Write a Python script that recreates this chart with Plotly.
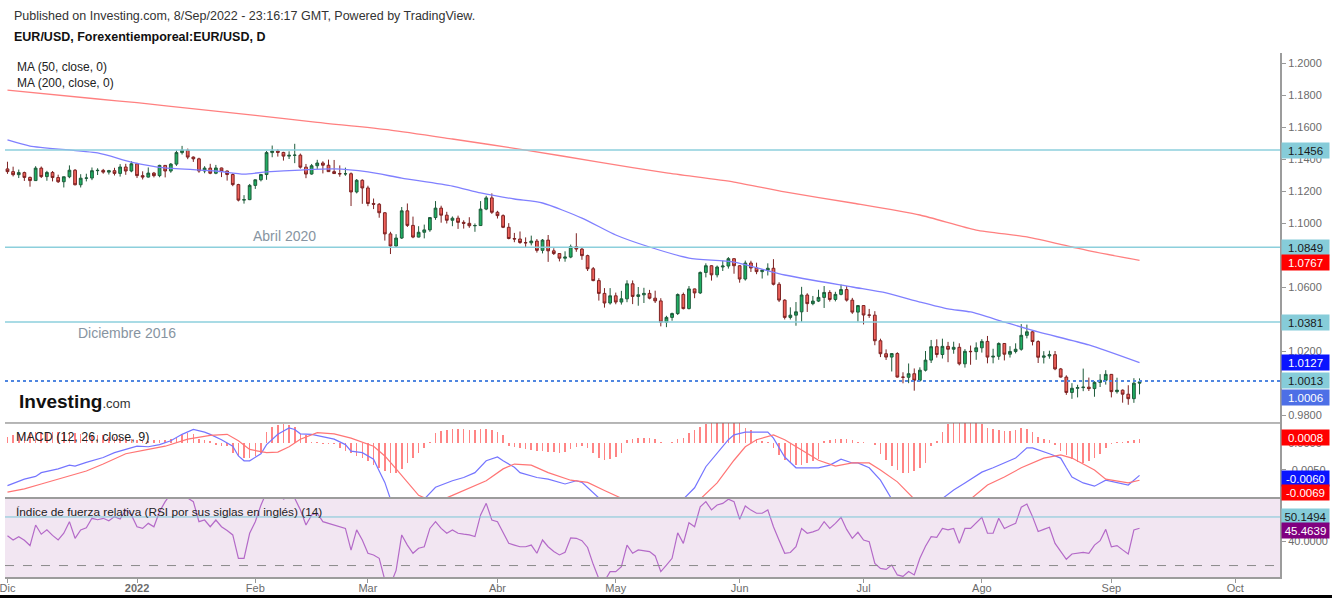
import pandas as pd
import plotly.graph_objects as go

# ---------------- data ----------------
dates = pd.bdate_range("2021-12-01", "2022-09-08")
bar = list(range(len(dates)))

open_ = [
    1.1338,1.1321,1.1302,1.1315,1.1285,1.1265,1.1343,1.1290,1.1316,1.1284,1.1258,1.1289,1.1330,1.1239,1.1280,1.1281,1.1327,1.1329,1.1318,1.1327,1.1310,1.1350,1.1325,
    1.1370,1.1296,1.1287,1.1312,1.1296,1.1360,1.1325,1.1368,1.1440,1.1455,1.1412,1.1401,1.1325,1.1343,1.1311,1.1344,1.1325,1.1303,1.1240,1.1143,1.1146,
    1.1235,1.1270,1.1303,1.1440,1.1450,1.1441,1.1418,1.1423,1.1424,1.1349,1.1306,1.1358,1.1375,1.1361,1.1321,1.1309,1.1307,1.1308,1.1194,1.1267,
    1.1219,1.1122,1.1117,1.1064,1.0932,1.0856,1.0906,1.1076,1.0985,1.0912,1.0942,1.0957,1.1034,1.1093,1.1049,1.1017,1.1030,1.1004,1.0998,1.0983,1.0984,1.1087,1.1157,
    1.1067,1.1046,1.0973,1.0903,1.0900,1.0878,1.0876,1.0887,1.0829,1.0893,1.0826,1.0809,1.0780,1.0787,1.0852,1.0837,1.0796,1.0714,1.0640,1.0560,1.0500,
    1.0545,1.0506,1.0526,1.0620,1.0541,1.0551,1.0560,1.0530,1.0513,1.0380,1.0410,1.0434,1.0553,1.0465,1.0588,1.0563,1.0691,1.0733,1.0676,1.0725,1.0731,1.0777,
    1.0733,1.0650,1.0750,1.0719,1.0696,1.0705,1.0717,1.0617,1.0518,1.0410,1.0424,1.0445,1.0550,1.0496,1.0512,1.0535,1.0566,1.0522,1.0554,1.0584,1.0518,1.0443,
    1.0484,1.0425,1.0424,1.0264,1.0183,1.0162,1.0184,1.0037,1.0036,1.0058,1.0017,1.0080,1.0143,1.0227,1.0178,1.0229,1.0211,1.0223,1.0120,1.0198,1.0196,
    1.0220,1.0260,1.0162,1.0167,1.0247,1.0180,1.0197,1.0211,1.0298,1.0320,1.0259,1.0161,1.0169,1.0177,1.0088,1.0037,0.9941,0.9967,0.9971,0.9974,0.9965,1.0004,1.0017,
    1.0054,0.9946,0.9955,0.9930,0.9902,0.9999,
]
high = [
    1.1383,1.1352,1.1334,1.1321,1.1290,1.1355,1.1353,1.1326,1.1325,1.1302,1.1290,1.1360,1.1337,1.1305,1.1308,1.1347,1.1342,1.1338,1.1332,1.1345,1.1368,1.1370,1.1386,
    1.1376,1.1323,1.1347,1.1319,1.1364,1.1362,1.1375,1.1454,1.1482,1.1465,1.1416,1.1408,1.1355,1.1370,1.1363,1.1346,1.1328,1.1310,1.1245,1.1174,1.1244,
    1.1272,1.1307,1.1450,1.1484,1.1461,1.1445,1.1448,1.1495,1.1434,1.1369,1.1369,1.1395,1.1386,1.1396,1.1394,1.1360,1.1346,1.1316,1.1275,1.1273,
    1.1233,1.1153,1.1125,1.1068,1.0945,1.0930,1.1100,1.1122,1.1040,1.0980,1.0990,1.1035,1.1137,1.1108,1.1070,1.1041,1.1046,1.1017,1.1036,1.0997,1.1137,1.1170,1.1185,
    1.1076,1.1054,1.0999,1.0938,1.0947,1.0910,1.0921,1.0900,1.0900,1.0925,1.0842,1.0812,1.0823,1.0865,1.0936,1.0850,1.0802,1.0725,1.0655,1.0593,1.0593,
    1.0565,1.0576,1.0642,1.0641,1.0600,1.0595,1.0582,1.0577,1.0530,1.0420,1.0440,1.0560,1.0565,1.0606,1.0590,1.0697,1.0748,1.0736,1.0734,1.0765,1.0787,1.0779,
    1.0736,1.0765,1.0764,1.0752,1.0710,1.0748,1.0774,1.0630,1.0523,1.0473,1.0506,1.0601,1.0561,1.0544,1.0583,1.0606,1.0580,1.0570,1.0615,1.0606,1.0532,1.0486,
    1.0487,1.0463,1.0449,1.0277,1.0210,1.0186,1.0192,1.0067,1.0122,1.0091,1.0098,1.0200,1.0269,1.0273,1.0277,1.0257,1.0258,1.0248,1.0212,1.0234,1.0254,
    1.0274,1.0294,1.0214,1.0254,1.0250,1.0230,1.0248,1.0368,1.0365,1.0326,1.0267,1.0199,1.0202,1.0200,1.0094,1.0048,0.9999,0.9989,1.0090,1.0034,1.0011,1.0055,1.0080,
    1.0056,1.0033,0.9960,0.9986,1.0030,1.0029,
]
low = [
    1.1307,1.1291,1.1281,1.1263,1.1227,1.1263,1.1281,1.1264,1.1260,1.1250,1.1222,1.1280,1.1235,1.1222,1.1260,1.1268,1.1300,1.1308,1.1303,1.1297,1.1290,1.1301,1.1317,
    1.1281,1.1272,1.1284,1.1285,1.1286,1.1285,1.1314,1.1357,1.1428,1.1399,1.1382,1.1314,1.1311,1.1305,1.1305,1.1287,1.1265,1.1230,1.1135,1.1121,1.1143,
    1.1213,1.1260,1.1270,1.1411,1.1415,1.1390,1.1400,1.1374,1.1340,1.1280,1.1302,1.1338,1.1310,1.1320,1.1308,1.1289,1.1295,1.1106,1.1185,1.1120,
    1.1105,1.1087,1.1033,1.0890,1.0806,1.0850,1.0900,1.0975,1.0905,1.0910,1.0904,1.0945,1.1020,1.1002,1.0997,1.0980,1.0963,1.0965,1.0970,1.0945,1.0982,1.1080,1.1057,
    1.1028,1.0968,1.0898,1.0880,1.0870,1.0850,1.0860,1.0815,1.0810,1.0757,1.0800,1.0760,1.0758,1.0780,1.0820,1.0770,1.0700,1.0636,1.0515,1.0471,1.0490,
    1.0492,1.0490,1.0505,1.0493,1.0483,1.0500,1.0523,1.0500,1.0354,1.0349,1.0389,1.0425,1.0460,1.0460,1.0530,1.0556,1.0660,1.0640,1.0660,1.0700,1.0715,1.0683,
    1.0627,1.0640,1.0694,1.0680,1.0653,1.0672,1.0610,1.0506,1.0397,1.0397,1.0358,1.0382,1.0444,1.0486,1.0506,1.0469,1.0509,1.0510,1.0548,1.0509,1.0432,1.0383,
    1.0366,1.0407,1.0236,1.0162,1.0144,1.0072,1.0034,0.9998,0.9999,0.9952,1.0007,1.0072,1.0125,1.0159,1.0153,1.0130,1.0183,1.0110,1.0096,1.0114,1.0145,
    1.0190,1.0123,1.0123,1.0145,1.0141,1.0159,1.0185,1.0202,1.0279,1.0235,1.0125,1.0122,1.0152,1.0080,1.0034,0.9926,0.9901,0.9910,0.9949,0.9950,0.9914,0.9975,0.9990,
    0.9910,0.9934,0.9877,0.9864,0.9876,0.9929,
]
close = [
    1.1321,1.1302,1.1315,1.1285,1.1265,1.1343,1.1290,1.1316,1.1284,1.1258,1.1289,1.1330,1.1239,1.1280,1.1281,1.1327,1.1329,1.1318,1.1327,1.1310,1.1350,1.1325,1.1370,
    1.1296,1.1287,1.1312,1.1296,1.1360,1.1325,1.1368,1.1440,1.1455,1.1412,1.1401,1.1325,1.1343,1.1311,1.1344,1.1325,1.1303,1.1240,1.1143,1.1146,1.1235,
    1.1270,1.1303,1.1440,1.1450,1.1441,1.1418,1.1423,1.1424,1.1349,1.1306,1.1358,1.1375,1.1361,1.1321,1.1309,1.1307,1.1308,1.1194,1.1267,1.1219,
    1.1122,1.1117,1.1064,1.0932,1.0856,1.0906,1.1076,1.0985,1.0912,1.0942,1.0957,1.1034,1.1093,1.1049,1.1017,1.1030,1.1004,1.0998,1.0983,1.0984,1.1087,1.1157,1.1067,
    1.1046,1.0973,1.0903,1.0900,1.0878,1.0876,1.0887,1.0829,1.0893,1.0826,1.0809,1.0780,1.0787,1.0852,1.0837,1.0796,1.0714,1.0640,1.0560,1.0500,1.0545,
    1.0506,1.0526,1.0620,1.0541,1.0551,1.0560,1.0530,1.0513,1.0380,1.0410,1.0434,1.0553,1.0465,1.0588,1.0563,1.0691,1.0733,1.0676,1.0725,1.0731,1.0777,1.0733,
    1.0650,1.0750,1.0719,1.0696,1.0705,1.0717,1.0617,1.0518,1.0410,1.0424,1.0445,1.0550,1.0496,1.0512,1.0535,1.0566,1.0522,1.0554,1.0584,1.0518,1.0443,1.0484,
    1.0425,1.0424,1.0264,1.0183,1.0162,1.0184,1.0037,1.0036,1.0058,1.0017,1.0080,1.0143,1.0227,1.0178,1.0229,1.0211,1.0223,1.0120,1.0198,1.0196,1.0220,
    1.0260,1.0162,1.0167,1.0247,1.0180,1.0197,1.0211,1.0298,1.0320,1.0259,1.0161,1.0169,1.0177,1.0088,1.0037,0.9941,0.9967,0.9971,0.9974,0.9965,1.0004,1.0017,1.0054,
    0.9946,0.9955,0.9930,0.9902,0.9999,1.0006,
]

# moving averages (bar index, value)
ma50_bar = [0,4,16,22,28,37,42,46,52,58,64,70,79,84,90,95,102,108,114,121,129,138,150,156,162,167,171,177,183,192,201]
ma50_val = [1.1519,1.1481,1.1438,1.1381,1.1344,1.1325,1.1306,1.1319,1.1331,1.1338,
            1.1319,1.1281,1.1231,1.1188,1.1150,1.1125,1.1031,1.0925,1.0850,1.0781,
            1.0756,1.0675,1.0600,1.0563,1.0506,1.0463,1.0444,1.0381,1.0319,1.0238,1.0127]
ma200_bar = [0,16,23,34,44,55,68,79,92,105,117,129,138,150,162,172,181,189,193,201]
ma200_val = [1.1831,1.1775,1.1752,1.1710,1.1673,1.1629,1.1581,1.1525,1.1456,1.1381,
             1.1313,1.1256,1.1194,1.1125,1.1050,1.0956,1.0913,1.0850,1.0819,1.0767]

# MACD (12, 26, close, 9)
macd_bar = [0,3,5,6,9,11,12,14,17,19,21,23,25,27,29,31,33,35,36,38,40,41,42,43,45,46,48,50,51,52,
            54,56,58,60,61,63,65,66,67,68,70,72,74,76,79,81,83,85,87,88,90,91,94,96,99,101,102,104,105,107,
            109,112,115,118,120,122,124,126,128,129,131,135,136,138,140,142,144,146,148,150,151,153,155,157,159,162,166,168,170,173,
            175,177,179,181,182,185,187,188,189,191,193,195,197,199,201]
macd_val = [-0.0079,-0.0067,-0.0062,-0.0055,-0.0048,-0.0041,-0.0043,-0.0036,-0.0027,-0.0018,
            -0.0012,-0.0006,-0.0007,-0.0003,0.0004,0.0016,0.0025,0.0020,0.0016,0.0006,
            -0.0006,-0.0024,-0.0033,-0.0033,-0.0020,-0.0003,0.0016,0.0028,0.0025,0.0017,
            0.0016,0.0011,0.0007,-0.0003,-0.0015,-0.0018,-0.0030,-0.0052,-0.0073,-0.0104,
            -0.0110,-0.0114,-0.0104,-0.0082,-0.0070,-0.0064,-0.0055,-0.0033,-0.0026,-0.0033,
            -0.0045,-0.0055,-0.0064,-0.0067,-0.0076,-0.0070,-0.0073,-0.0094,-0.0104,-0.0121,
            -0.0120,-0.0110,-0.0110,-0.0112,-0.0104,-0.0083,-0.0044,-0.0019,0.0006,0.0015,
            0.0020,0.0020,0.0009,-0.0026,-0.0046,-0.0046,-0.0046,-0.0041,-0.0030,-0.0037,
            -0.0037,-0.0046,-0.0069,-0.0104,-0.0135,-0.0135,-0.0104,-0.0087,-0.0074,-0.0054,
            -0.0046,-0.0037,-0.0028,-0.0009,-0.0009,-0.0020,-0.0028,-0.0046,-0.0063,-0.0074,
            -0.0080,-0.0069,-0.0074,-0.0078,-0.0060]
signal_bar = [0,3,6,10,14,17,21,25,28,32,36,39,41,43,46,48,50,52,55,58,
              61,65,67,69,71,73,75,77,79,81,85,88,90,93,96,100,103,106,109,111,
              114,117,119,121,123,126,129,131,133,136,138,141,144,147,150,153,155,158,161,164,
              167,171,174,177,180,184,187,189,193,195,199,201]
signal_val = [-0.0091,-0.0085,-0.0076,-0.0064,-0.0052,-0.0039,-0.0020,-0.0012,-0.0006,0.0007,
              0.0014,0.0016,0.0004,-0.0012,-0.0018,-0.0017,-0.0007,0.0007,0.0019,0.0017,
              0.0009,-0.0006,-0.0024,-0.0048,-0.0073,-0.0097,-0.0106,-0.0106,-0.0097,-0.0088,
              -0.0070,-0.0048,-0.0039,-0.0041,-0.0055,-0.0069,-0.0073,-0.0088,-0.0104,-0.0112,
              -0.0118,-0.0118,-0.0115,-0.0110,-0.0104,-0.0074,-0.0032,-0.0007,0.0006,0.0015,
              0.0006,-0.0013,-0.0032,-0.0043,-0.0037,-0.0037,-0.0050,-0.0072,-0.0104,-0.0118,
              -0.0118,-0.0104,-0.0078,-0.0063,-0.0046,-0.0028,-0.0022,-0.0028,-0.0050,-0.0067,
              -0.0074,-0.0069]
hist = [
    0.0012,0.0014,0.0016,0.0018,0.0019,0.0020,0.0021,0.0021,0.0020,0.0021,0.0021,0.0019,0.0018,0.0016,0.0015,0.0015,0.0014,0.0014,0.0012,0.0011,0.0010,0.0008,0.0007,
    0.0005,0.0004,0.0004,0.0005,0.0005,0.0006,0.0007,
    0.0010,0.0015,0.0018,0.0017,0.0007,0.0005,0.0003,-0.0004,-0.0006,-0.0006,-0.0019,-0.0025,-0.0028,-0.0027,-0.0024,-0.0019,
    0.0020,0.0030,0.0034,0.0035,0.0034,0.0030,0.0016,0.0014,0.0002,0.0001,-0.0001,-0.0002,-0.0002,
    -0.0010,-0.0015,-0.0019,-0.0024,-0.0028,-0.0033,-0.0040,-0.0046,-0.0052,-0.0055,-0.0055,
    -0.0048,-0.0038,-0.0028,-0.0018,-0.0010,
    0.0002,0.0018,0.0022,0.0024,0.0025,0.0026,0.0025,0.0024,0.0024,0.0025,0.0026,0.0024,0.0020,0.0014,
    -0.0006,-0.0008,-0.0010,-0.0012,-0.0013,-0.0014,-0.0015,-0.0016,-0.0017,-0.0018,-0.0016,-0.0012,-0.0008,-0.0006,-0.0010,-0.0018,-0.0028,-0.0031,-0.0030,-0.0026,-0.0018,
    0.0005,0.0008,0.0009,0.0009,0.0009,0.0008,0.0001,0.0000,0.0001,0.0007,0.0009,
    0.0018,0.0024,0.0030,0.0036,0.0040,0.0042,0.0044,0.0044,0.0042,0.0040,0.0028,0.0024,0.0008,0.0004,0.0002,
    -0.0010,-0.0022,-0.0032,-0.0038,-0.0041,-0.0040,-0.0038,-0.0034,-0.0030,
    0.0004,0.0006,0.0008,0.0008,0.0007,0.0006,0.0002,0.0001,0.0000,-0.0003,
    -0.0020,-0.0032,-0.0042,-0.0050,-0.0055,-0.0056,-0.0052,-0.0046,-0.0038,-0.0005,0.0003,
    0.0020,0.0036,0.0042,0.0044,0.0044,0.0042,0.0040,0.0036,0.0028,0.0026,0.0024,0.0022,0.0022,0.0024,0.0027,0.0026,0.0020,0.0012,0.0008,0.0006,
    -0.0004,-0.0014,-0.0022,-0.0030,-0.0035,-0.0037,-0.0034,-0.0028,-0.0020,-0.0010,
    -0.0002,0.0001,0.0002,0.0003,0.0005,0.0008,
]

# RSI (14)
rsi = [
    42.4,40.6,42.0,40.5,38.3,46.8,43.0,44.8,42.5,40.6,
    43.4,48.2,41.3,44.8,45.7,49.6,49.0,49.6,48.6,50.3,
    49.3,53.1,51.0,46.1,45.4,47.5,46.1,52.4,56.5,60.5,
    63.0,60.5,58.0,56.5,48.2,48.9,46.1,48.9,46.1,44.5,
    42.7,33.0,33.0,43.4,48.2,55.0,60.5,63.0,61.0,57.6,
    58.5,57.9,53.1,46.8,51.0,51.7,48.2,47.5,46.8,46.1,
    45.4,36.4,44.8,40.6,35.1,34.4,33.0,24.0,22.0,28.0,
    42.7,38.5,35.1,37.2,37.8,45.4,48.2,45.4,43.4,44.8,
    43.4,43.0,42.7,42.0,51.0,55.8,48.9,48.2,43.4,39.2,
    38.5,37.8,37.8,38.5,35.1,40.6,37.8,35.8,34.4,35.5,
    41.5,41.3,40.3,37.5,30.5,24.5,23.5,27.5,27.5,29.5,
    38.5,35.1,36.5,36.0,35.8,34.0,27.5,30.2,33.0,43.6,
    39.2,47.8,46.1,54.4,56.5,53.1,55.1,55.8,57.5,56.5,
    49.2,54.7,53.0,51.7,51.7,53.1,46.1,40.5,35.1,35.4,
    37.8,45.4,43.4,44.0,44.8,48.2,45.4,47.5,50.0,45.0,
    41.3,43.8,40.6,39.9,30.9,28.8,28.4,30.2,26.1,25.5,
    27.5,26.1,33.0,38.0,42.0,41.7,45.4,44.8,45.4,39.2,
    45.4,45.4,47.5,50.0,43.4,43.4,49.6,45.4,46.5,47.5,
    54.2,55.5,50.3,44.1,45.0,45.9,39.2,36.0,32.6,34.8,
    35.1,35.5,35.1,38.5,40.3,45.0,37.8,38.3,36.5,34.8,
    44.8,45.4639,
]

hlines_price = [1.1456, 1.0849, 1.0381]
dotted_price = 1.0013
rsi_hline = 50.1494
rsi_low_band = 30

month_labels = ["Dic", "<b>2022</b>", "Feb", "Mar", "Abr", "May", "Jun", "Jul", "Ago", "Sep", "Oct"]
month_starts = ["2021-12-01", "2022-01-01", "2022-02-01", "2022-03-01", "2022-04-01", "2022-05-01",
                "2022-06-01", "2022-07-01", "2022-08-01", "2022-09-01", "2022-10-01"]

for name, arr in [("open", open_), ("high", high), ("low", low), ("close", close), ("hist", hist), ("rsi", rsi)]:
    assert len(arr) == len(dates), (name, len(arr), len(dates))
assert len(ma50_bar) == len(ma50_val)
assert len(ma200_bar) == len(ma200_val)
assert len(macd_bar) == len(macd_val), (len(macd_bar), len(macd_val))
assert len(signal_bar) == len(signal_val), (len(signal_bar), len(signal_val))

# business-day calendar used for tick positions (extends past the data)
cal = pd.bdate_range("2021-12-01", "2022-10-31")
tick_pos = [int((cal >= pd.Timestamp(m)).argmax()) for m in month_starts]

# ---------------- figure ----------------
FONT = "Liberation Sans, Arial, sans-serif"
fig = go.Figure()

fig.add_trace(go.Candlestick(
    x=bar, open=open_, high=high, low=low, close=close,
    increasing=dict(fillcolor="#1eae62", line=dict(color="#1f5c3b", width=1)),
    decreasing=dict(fillcolor="#f0625b", line=dict(color="#7d2222", width=1)),
    whiskerwidth=0, xaxis="x", yaxis="y", hoverinfo="skip", showlegend=False))

fig.add_trace(go.Scatter(x=ma50_bar, y=ma50_val, mode="lines", xaxis="x", yaxis="y",
                         line=dict(color="#8080ff", width=1.3, shape="spline", smoothing=0.6),
                         hoverinfo="skip", showlegend=False))
fig.add_trace(go.Scatter(x=ma200_bar, y=ma200_val, mode="lines", xaxis="x", yaxis="y",
                         line=dict(color="#ff8080", width=1.3, shape="spline", smoothing=0.6),
                         hoverinfo="skip", showlegend=False))

fig.add_trace(go.Bar(x=bar, y=hist, xaxis="x", yaxis="y2", width=0.28,
                     marker=dict(color="rgba(255,80,80,0.7)", line=dict(width=0)),
                     hoverinfo="skip", showlegend=False))
fig.add_trace(go.Scatter(x=macd_bar, y=macd_val, mode="lines", xaxis="x", yaxis="y2",
                         line=dict(color="#7575ff", width=1.2), hoverinfo="skip", showlegend=False))
fig.add_trace(go.Scatter(x=signal_bar, y=signal_val, mode="lines", xaxis="x", yaxis="y2",
                         line=dict(color="#ff7575", width=1.2), hoverinfo="skip", showlegend=False))

fig.add_trace(go.Scatter(x=bar, y=rsi, mode="lines", xaxis="x", yaxis="y3",
                         line=dict(color="#b46ac8", width=1.2), hoverinfo="skip", showlegend=False))

axis_common = dict(side="right", anchor="x", showgrid=False, zeroline=False, ticks="outside",
                   ticklen=4, tickcolor="#999999", tickwidth=1, showline=True, linecolor="#9c9c9c",
                   linewidth=2, tickfont=dict(family=FONT, size=11, color="#6b6b6b"),
                   fixedrange=True, automargin=False)

fig.update_layout(
    width=1332, height=598,
    margin=dict(l=5, r=52, t=53, b=21, autoexpand=False),
    paper_bgcolor="white", plot_bgcolor="white",
    showlegend=False, hovermode=False, bargap=0,
    xaxis=dict(domain=[0, 1], anchor="y3", range=[-0.44, 225.94], showgrid=False, zeroline=False,
               tickmode="array", tickvals=tick_pos, ticktext=month_labels, ticks="outside",
               ticklen=4, tickcolor="#999999", showline=True, linecolor="#9c9c9c", linewidth=2,
               tickfont=dict(family=FONT, size=11, color="#6b6b6b"), ticklabeloverflow="allow",
               ticklabelstandoff=-4,
               automargin=False, rangeslider=dict(visible=False), fixedrange=True),
    yaxis=dict(domain=[0.2939, 1], range=[0.975, 1.20625], tickmode="linear", tick0=0.98,
               dtick=0.02, tickformat=".4f", **axis_common),
    yaxis2=dict(domain=[0.1508, 0.2939], range=[-0.01019, 0.0037], tickmode="array",
                tickvals=[0, -0.005], ticktext=["0.0000", "-0.0050"], **axis_common),
    yaxis3=dict(domain=[0, 0.1508], range=[25.25, 58.03], tickmode="array",
                tickvals=[40], ticktext=["40.0000"], **axis_common),
)

shapes = []
# RSI background
shapes.append(dict(type="rect", xref="paper", yref="paper", x0=0, x1=1, y0=0, y1=0.1508,
                   fillcolor="#f2e6f2", line=dict(width=0), layer="below"))
for p in hlines_price:
    shapes.append(dict(type="line", xref="paper", yref="y", x0=0, x1=1, y0=p, y1=p,
                       line=dict(color="#8ccfdc", width=1.5)))
shapes.append(dict(type="line", xref="paper", yref="y", x0=0, x1=1, y0=dotted_price, y1=dotted_price,
                   line=dict(color="#4f86e0", width=2, dash="dot")))
shapes.append(dict(type="line", xref="paper", yref="y3", x0=0, x1=1, y0=rsi_hline, y1=rsi_hline,
                   line=dict(color="#7cc6d6", width=1)))
shapes.append(dict(type="line", xref="paper", yref="y3", x0=0, x1=1, y0=rsi_low_band, y1=rsi_low_band,
                   line=dict(color="#8a8a8a", width=1, dash="dash")))
# panel separators
shapes.append(dict(type="line", xref="paper", yref="paper", x0=0, x1=1, y0=0.2939, y1=0.2939,
                   line=dict(color="#6e6e6e", width=1)))
shapes.append(dict(type="line", xref="paper", yref="paper", x0=0, x1=1, y0=0.1508, y1=0.1508,
                   line=dict(color="#9c9c9c", width=2)))
# dark strip at the very bottom of the image
shapes.append(dict(type="rect", xref="paper", yref="paper", x0=-0.01, x1=1.05, y0=-0.05, y1=-0.0344,
                   fillcolor="#000000", line=dict(width=0)))
fig.update_layout(shapes=shapes)

ann = []
def text(x, y, s, size=12, color="#222222", bold=False):
    ann.append(dict(xref="paper", yref="paper", x=x, y=y, xanchor="left", yanchor="middle",
                    text=("<b>%s</b>" % s) if bold else s, showarrow=False,
                    font=dict(family=FONT, size=size, color=color)))

text(0.0055, 1.0706, "Published on Investing.com, 8/Sep/2022 - 23:16:17 GMT, Powered by TradingView.", 12.5, "#333333")
text(0.0055, 1.0305, "EUR/USD, Forexentiemporeal:EUR/USD, D", 12.5, "#111111", bold=True)
text(0.0078, 0.9733, "MA (50, close, 0)", 12, "#222222")
text(0.0078, 0.9427, "MA (200, close, 0)", 12, "#222222")
text(0.0070, 0.2672, "MACD (12, 26, close, 9)", 12.5, "#222222")
text(0.0070, 0.1250, "Índice de fuerza relativa (RSI por sus siglas en inglés) (14)", 11.8, "#222222")

ann.append(dict(xref="paper", yref="paper", x=0.0094, y=0.334, xanchor="left", yanchor="middle",
                text="<b>Investing</b><span style='font-size:13px;color:#333'>.com</span>",
                showarrow=False, font=dict(family=FONT, size=19, color="#111111")))

ann.append(dict(xref="x", yref="y", x=49.1, y=1.0849, xanchor="center", yanchor="bottom", yshift=1,
                text="Abril 2020", showarrow=False, font=dict(family=FONT, size=14, color="#8794a1")))
ann.append(dict(xref="x", yref="y", x=21.2, y=1.0381, xanchor="center", yanchor="top", yshift=-1,
                text="Diciembre 2016", showarrow=False, font=dict(family=FONT, size=14, color="#8794a1")))

def box(yref, y, s, bg, fg, shift=0):
    ann.append(dict(xref="paper", yref=yref, x=1, y=y, xanchor="left", yanchor="middle",
                    xshift=1, yshift=shift, text=s, showarrow=False, bgcolor=bg, width=47, height=15,
                    align="center", borderpad=0, font=dict(family=FONT, size=11.5, color=fg)))

box("y", 1.1456, "1.1456", "#86ccd9", "#1a1a1a")
box("y", 1.0849, "1.0849", "#86ccd9", "#1a1a1a")
box("y", 1.0767, "1.0767", "#ff0000", "#ffffff", -2)
box("y", 1.0381, "1.0381", "#86ccd9", "#1a1a1a")
box("y", 1.0127, "1.0127", "#0a14ff", "#ffffff")
box("y", 1.0013, "1.0013", "#86ccd9", "#1a1a1a")
box("y", 1.0006, "1.0006", "#4d6fe6", "#ffffff", -15)
box("y2", 0.0008, "0.0008", "#ff0000", "#ffffff", 1.5)
box("y2", -0.0060, "-0.0060", "#0a14ff", "#ffffff", -3)
box("y2", -0.0069, "-0.0069", "#ff0000", "#ffffff", -12)
box("y3", 50.1494, "50.1494", "#86ccd9", "#1a1a1a")
box("y3", 45.4639, "45.4639", "#800080", "#ffffff", -2)

fig.update_layout(annotations=ann)
fig.write_html("out.html")
